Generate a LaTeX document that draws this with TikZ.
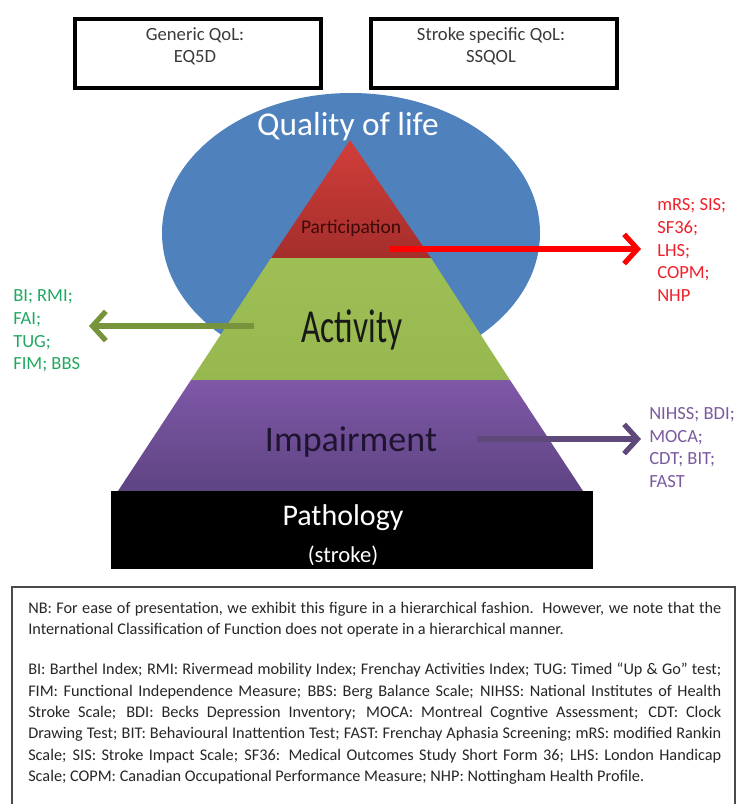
\documentclass[tikz,border=0pt]{standalone}
\usepackage{fontspec}
\usepackage{graphicx}
\setmainfont{Carlito}
\usetikzlibrary{arrows.meta}
\definecolor{qolblue}{HTML}{4F81BD}
\definecolor{parttop}{HTML}{D23E3A}
\definecolor{partbot}{HTML}{A42E2B}
\definecolor{acttop}{HTML}{9DBF55}
\definecolor{actbot}{HTML}{97B84F}
\definecolor{imptop}{HTML}{7F58A8}
\definecolor{impbot}{HTML}{5E4482}
\definecolor{textgray}{HTML}{3A3A3A}
\definecolor{redlab}{HTML}{F0202A}
\definecolor{greenlab}{HTML}{20A860}
\definecolor{purplelab}{HTML}{7A5A9E}
\definecolor{greenarrow}{HTML}{77933C}
\definecolor{purplearrow}{HTML}{5F497A}
\definecolor{parttext}{HTML}{3C0A0A}
\definecolor{imptext}{HTML}{1E1430}
\definecolor{notesborder}{HTML}{4A4A4A}
\newcommand{\justline}[1]{\makebox[519.75pt][s]{#1}}
\begin{document}
\begin{tikzpicture}[x=0.75pt,y=-0.75pt,
  qolbox/.style={draw=black, line width=3pt, minimum width=184.5pt, minimum height=51.75pt, inner sep=0},
  boxtext/.style={font=\fontsize{14}{16.5}\selectfont, text=textgray, align=center, inner sep=0},
  sidelabel/.style={anchor=west, align=left, inner sep=0, font=\fontsize{13.9}{16.9}\selectfont},
  measurearrow/.style={line width=3.9pt, -{Straight Barb[length=10pt,width=22pt]}},
  bigtext/.style={inner sep=0, font=\fontsize{25}{30}\selectfont},
  notes/.style={anchor=north west, inner sep=0, align=left, text=black!85, font=\fontsize{12.2}{16}\selectfont}
]
\useasboundingbox (0,0) rectangle (737,804);

% top boxes
\node[qolbox] (genbox) at (198,53.5) {};
\node[boxtext] (gentext) at (195,46) {Generic QoL:\\EQ5D};
\node[qolbox] (strbox) at (493.5,53.5) {};
\node[boxtext] (strtext) at (491,46) {Stroke specific QoL:\\SSQOL};

% quality of life ellipse
\fill[qolblue] (351,233) ellipse [x radius=189, y radius=140];

% pyramid
\shade[top color=parttop, bottom color=partbot] (350,140) -- (431,258) -- (271,258) -- cycle;
\shade[top color=acttop, bottom color=actbot] (271,258) -- (431,258) -- (510,380) -- (191,380) -- cycle;
\shade[top color=imptop, bottom color=impbot] (191,380) -- (510,380) -- (583,491) -- (118,491) -- cycle;
\fill[black] (111,491) rectangle (593,569);

% texts on the figure
\node[bigtext, text=white] (qol) at (348,127) {Quality of life};
\node[inner sep=0, font=\fontsize{14.6}{17}\selectfont, text=parttext] (part) at (351,228) {Participation};
\node[bigtext, anchor=base, text=black!90] (act) at (352,342) {\scalebox{1}[1.42]{Activity}};
\node[inner sep=0, font=\fontsize{27}{32}\selectfont, text=imptext] (imp) at (351,442) {Impairment};
\node[inner sep=0, font=\fontsize{22.5}{27}\selectfont, text=white] (path) at (343,518) {Pathology};
\node[inner sep=0, font=\fontsize{17}{20}\selectfont, text=white] (stroke) at (343,556) {(stroke)};

% side labels
\node[sidelabel, text=redlab] (redlist) at (657,250) {mRS; SIS;\\SF36;\\LHS;\\COPM;\\NHP};
\node[sidelabel, text=greenlab] (greenlist) at (13,331) {BI; RMI;\\FAI;\\TUG;\\FIM; BBS};
\node[sidelabel, text=purplelab] (purplelist) at (649,447.5) {NIHSS; BDI;\\MOCA;\\CDT; BIT;\\FAST};

% arrows
\coordinate (redstart) at (390,249);
\coordinate (redend) at (641,249);
\coordinate (greenstart) at (254,326);
\coordinate (greenend) at (89,326);
\coordinate (purplestart) at (477,439);
\coordinate (purpleend) at (641,439);
\draw[measurearrow, draw=red] (redstart) -- (redend);
\draw[measurearrow, draw=greenarrow] (greenstart) -- (greenend);
\draw[measurearrow, draw=purplearrow] (purplestart) -- (purpleend);

% notes box
\draw[notesborder, line width=1.3pt] (12,810) -- (12,587) -- (735,587) -- (735,810);
\node[notes] (nb) at (28,602) {%
\justline{NB: For ease of presentation, we exhibit this figure in a hierarchical fashion.\ \ However, we note that the}\\
International Classification of Function does not operate in a hierarchical manner.\\[14pt]
\justline{BI: Barthel Index; RMI: Rivermead mobility Index; Frenchay Activities Index; TUG: Timed “Up \& Go” test;}\\
\justline{FIM: Functional Independence Measure; BBS: Berg Balance Scale; NIHSS: National Institutes of Health}\\
\justline{Stroke Scale; BDI: Becks Depression Inventory; MOCA: Montreal Cogntive Assessment; CDT: Clock}\\
\justline{Drawing Test; BIT: Behavioural Inattention Test; FAST: Frenchay Aphasia Screening; mRS: modified Rankin}\\
\justline{Scale; SIS: Stroke Impact Scale; SF36: Medical Outcomes Study Short Form 36; LHS: London Handicap}\\
Scale; COPM: Canadian Occupational Performance Measure; NHP: Nottingham Health Profile.};
\end{tikzpicture}
\end{document}
